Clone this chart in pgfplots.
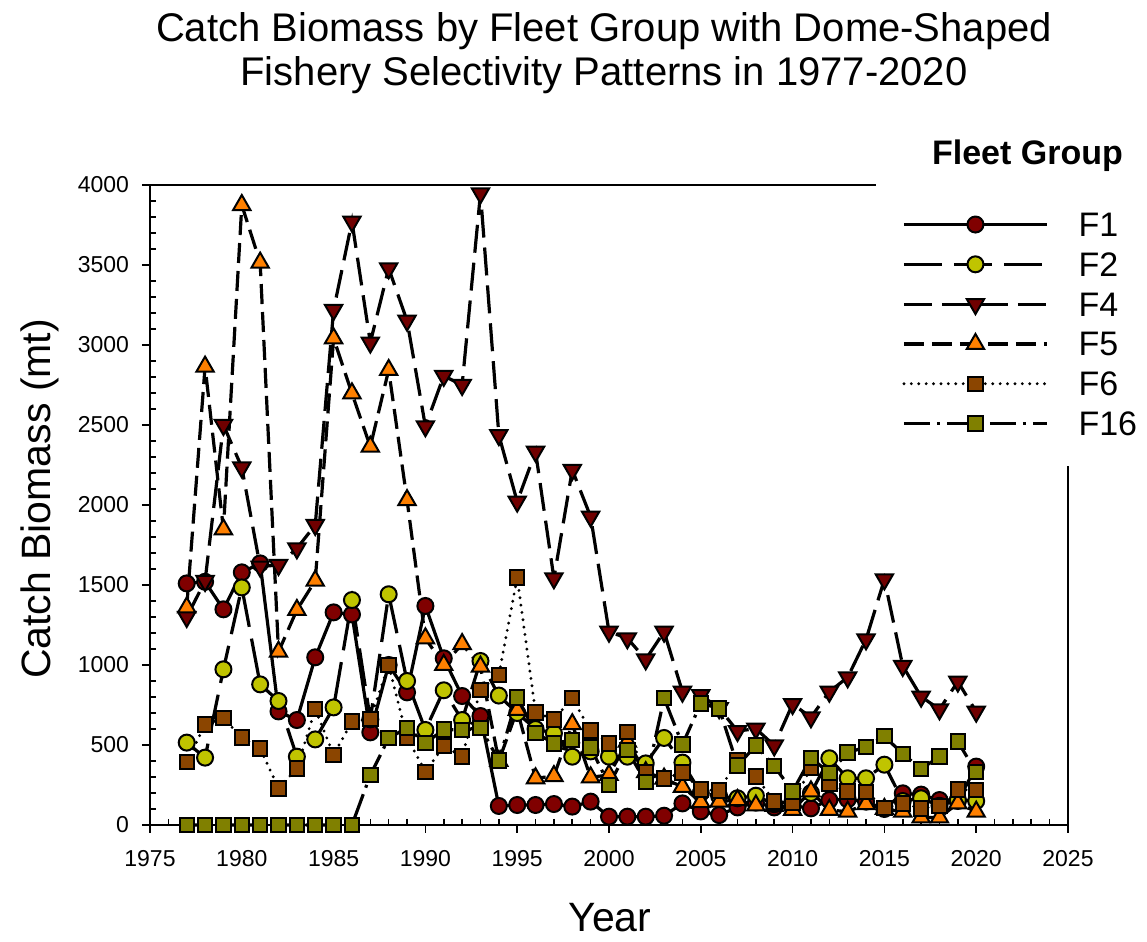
\documentclass[border=0pt]{standalone}
\usepackage{fontspec}
\setmainfont{Liberation Sans}
\usepackage{pgfplots}
\pgfplotsset{compat=1.18}
\usepackage{pgfplotstable}

\definecolor{cFone}{RGB}{128,0,0}
\definecolor{cFtwo}{RGB}{192,196,0}
\definecolor{cFfour}{RGB}{112,0,0}
\definecolor{cFfive}{RGB}{255,128,0}
\definecolor{cFsix}{RGB}{139,69,0}
\definecolor{cFsixteen}{RGB}{128,128,0}

\pgfplotstableread{
year v
1977 1510
1978 1520
1979 1348
1980 1579
1981 1635
1982 710
1983 656
1984 1048
1985 1329
1986 1316
1987 579
1988 1000
1989 829
1990 1369
1991 1042
1992 806
1993 681
1994 119
1995 125
1996 125
1997 131
1998 115
1999 146
2000 52
2001 52
2002 52
2003 58
2004 135
2005 85
2006 62
2007 110
2008 140
2009 110
2010 120
2011 104
2012 156
2013 160
2014 146
2015 100
2016 198
2017 190
2018 156
2019 150
2020 365
}\Fone

\pgfplotstableread{
year v
1977 515
1978 421
1979 973
1980 1485
1981 879
1982 775
1983 427
1984 535
1985 735
1986 1406
1987 660
1988 1442
1989 900
1990 594
1991 842
1992 656
1993 1025
1994 809
1995 700
1996 600
1997 573
1998 427
1999 460
2000 427
2001 427
2002 385
2003 544
2004 390
2005 200
2006 180
2007 167
2008 183
2009 130
2010 150
2011 200
2012 417
2013 292
2014 292
2015 377
2016 150
2017 167
2018 120
2019 156
2020 150
}\Ftwo

\pgfplotstableread{
year v
1977 1300
1978 1525
1979 2500
1980 2235
1981 1615
1982 1625
1983 1729
1984 1875
1985 3219
1986 3771
1987 3015
1988 3479
1989 3152
1990 2492
1991 2807
1992 2750
1993 3948
1994 2437
1995 2021
1996 2333
1997 1542
1998 2219
1999 1927
2000 1208
2001 1167
2002 1035
2003 1208
2004 833
2005 812
2006 730
2007 587
2008 602
2009 497
2010 756
2011 673
2012 833
2013 923
2014 1160
2015 1535
2016 994
2017 802
2018 723
2019 896
2020 708
}\Ffour

\pgfplotstableread{
year v
1977 1360
1978 2865
1979 1848
1980 3875
1981 3515
1982 1083
1983 1344
1984 1527
1985 3042
1986 2698
1987 2365
1988 2844
1989 2031
1990 1167
1991 1000
1992 1131
1993 990
1994 400
1995 719
1996 292
1997 306
1998 630
1999 298
2000 313
2001 521
2002 330
2003 290
2004 238
2005 143
2006 146
2007 156
2008 122
2009 120
2010 94
2011 210
2012 94
2013 83
2014 131
2015 100
2016 83
2017 47
2018 47
2019 135
2020 83
}\Ffive

\pgfplotstableread{
year v
1977 392
1978 629
1979 667
1980 548
1981 479
1982 229
1983 354
1984 725
1985 438
1986 646
1987 663
1988 1000
1989 546
1990 333
1991 494
1992 427
1993 844
1994 938
1995 1546
1996 704
1997 660
1998 792
1999 590
2000 510
2001 581
2002 330
2003 290
2004 327
2005 221
2006 216
2007 405
2008 304
2009 146
2010 140
2011 356
2012 258
2013 210
2014 208
2015 106
2016 135
2017 104
2018 119
2019 221
2020 219
}\Fsix

\pgfplotstableread{
year v
1977 0
1978 0
1979 0
1980 0
1981 0
1982 0
1983 0
1984 0
1985 0
1986 0
1987 312
1988 542
1989 608
1990 512
1991 596
1992 594
1993 608
1994 403
1995 797
1996 575
1997 510
1998 531
1999 485
2000 250
2001 467
2002 268
2003 792
2004 503
2005 760
2006 729
2007 372
2008 496
2009 368
2010 210
2011 420
2012 325
2013 452
2014 488
2015 555
2016 444
2017 351
2018 427
2019 521
2020 330
}\Fsixteen

\begin{document}
\begin{tikzpicture}
\path[use as bounding box] (-75pt,-58.5pt) rectangle (498.5pt,412.5pt);
\begin{axis}[
  at={(0,0)}, anchor=south west, scale only axis,
  width=459pt, height=320pt,
  xmin=1975, xmax=2025, ymin=0, ymax=4000,
  xtick={1975,1980,...,2025}, ytick={0,500,...,4000},
  minor x tick num=4, minor y tick num=4,
  tick align=outside, major tick length=4pt, minor tick length=-3pt,
  xtick pos=bottom, ytick pos=left,
  axis line style={line width=1pt},
  every tick/.style={black, line width=0.8pt},
  /pgf/number format/1000 sep={},
  /pgf/number format/assume math mode=true,
  tick label style={font=\fontsize{11.5}{13}\selectfont},
  yticklabel style={xshift=-3pt},
  xticklabel style={yshift=-5pt},
  clip=false,
  legend cell align=left,
  legend image code/.code={\draw[mark repeat=2,mark phase=2] plot coordinates {(0pt,0pt) (35.75pt,0pt) (71.5pt,0pt)};},
  legend style={at={(axis description cs:0.7908,1.0045)}, anchor=north west,
    draw=none, fill=white, inner sep=13pt, column sep=15pt, row sep=3.9pt,
    font=\fontsize{17}{20}\selectfont,
    nodes={inner sep=0pt, text height=14pt, text depth=2pt}},
]
\addplot[black, line width=1.6pt, mark=*, mark size=4pt,
  mark options={solid, fill=cFone, draw=black, line width=1pt}] table[x=year,y=v] {\Fone};
\addlegendentry{F1}
\addplot[black, line width=1.6pt, dash pattern=on 19pt off 6pt, mark=*, mark size=4pt,
  mark options={solid, fill=cFtwo, draw=black, line width=1pt}] table[x=year,y=v] {\Ftwo};
\addlegendentry{F2}
\addplot[black, line width=1.6pt, dash pattern=on 14pt off 5pt, mark=triangle*, mark size=5pt,
  mark options={solid, rotate=180, fill=cFfour, draw=black, line width=1pt}] table[x=year,y=v] {\Ffour};
\addlegendentry{F4}
\addplot[black, line width=1.6pt, dash pattern=on 10pt off 4pt, mark=triangle*, mark size=5pt,
  mark options={solid, fill=cFfive, draw=black, line width=1pt}] table[x=year,y=v] {\Ffive};
\addlegendentry{F5}
\addplot[black, line width=1.6pt, line cap=round, dash pattern=on 0pt off 3.7pt, mark=square*, mark size=3.6pt,
  mark options={solid, line cap=butt, fill=cFsix, draw=black, line width=1pt}] table[x=year,y=v] {\Fsix};
\addlegendentry{F6}
\addplot[black, line width=1.6pt, dash pattern=on 13pt off 3.5pt on 1.5pt off 3.5pt, mark=square*, mark size=3.6pt,
  mark options={solid, fill=cFsixteen, draw=black, line width=1pt}] table[x=year,y=v] {\Fsixteen};
\addlegendentry{F16}
\end{axis}
\node[anchor=base, font=\fontsize{20}{24}\selectfont] at (227pt,391.5pt) {Catch Biomass by Fleet Group with Dome-Shaped};
\node[anchor=base, font=\fontsize{20}{24}\selectfont] at (227pt,369.5pt) {Fishery Selectivity Patterns in 1977-2020};
\node[anchor=base, font=\bfseries\fontsize{17}{20}\selectfont] at (438.75pt,330pt) {Fleet Group};
\node[rotate=90, anchor=center, font=\fontsize{20.5}{24}\selectfont] at (-55pt,163pt) {Catch Biomass (mt)};
\node[anchor=base, font=\fontsize{20.5}{24}\selectfont] at (230pt,-53.5pt) {Year};
\end{tikzpicture}
\end{document}
